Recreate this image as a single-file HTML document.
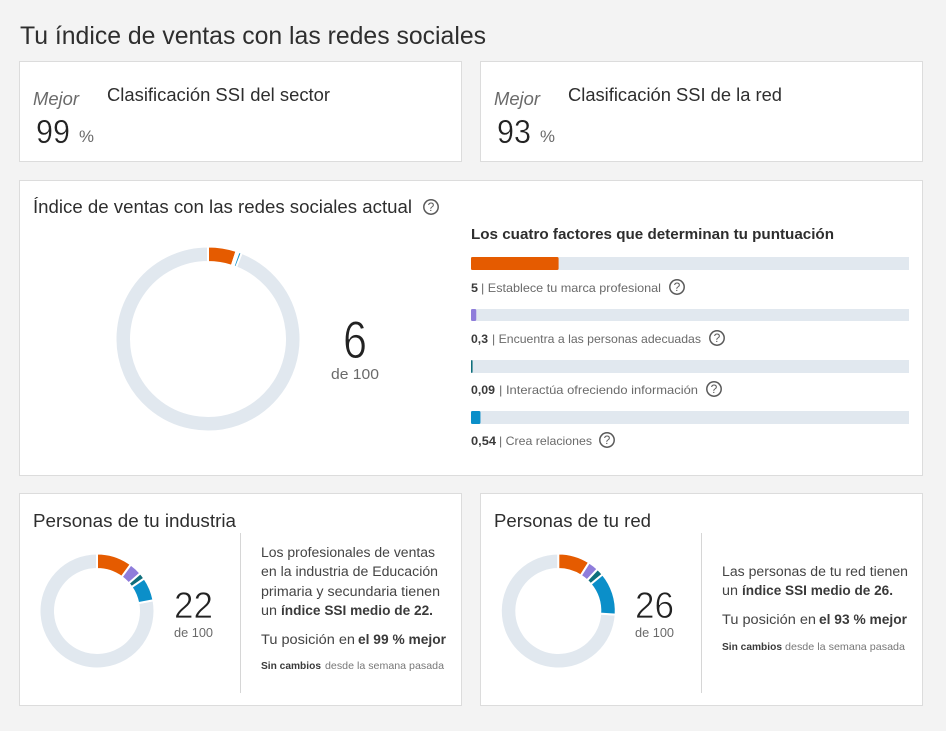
<!DOCTYPE html>
<html lang="es">
<head>
<meta charset="utf-8">
<title>Índice de ventas con las redes sociales</title>
<style>
html,body{margin:0;padding:0;background:#f3f3f3;}
svg{display:block;font-family:"Liberation Sans",sans-serif;}
.card{fill:#fff;stroke:#dcdcdc;stroke-width:1;}
.dark{fill:#2e2e2e;}
.mid{fill:#6a6a6a;}
.b{font-weight:bold;fill:#3a3a3a;}
.help circle{fill:none;stroke:#5a5a5a;stroke-width:1.5;}
.help text{fill:#5a5a5a;font-size:12px;text-anchor:middle;}
</style>
</head>
<body>
<svg id="page" xmlns="http://www.w3.org/2000/svg" width="946" height="731" viewBox="0 0 946 731">
<rect width="946" height="731" fill="#f3f3f3"/>
<text class="dark" x="20" y="44" font-size="25" textLength="466" lengthAdjust="spacingAndGlyphs">Tu índice de ventas con las redes sociales</text>

<rect class="card" x="19.5" y="61.5" width="442" height="100"/>
<text class="mid" font-style="italic" x="33" y="105" font-size="18" textLength="46" lengthAdjust="spacingAndGlyphs">Mejor</text>
<text class="dark" x="107" y="101" font-size="18" textLength="223" lengthAdjust="spacingAndGlyphs">Clasificación SSI del sector</text>
<text fill="#222" stroke="#fff" stroke-width="0.4" x="36" y="143" font-size="33" textLength="34" lengthAdjust="spacingAndGlyphs">99</text>
<text class="mid" x="79" y="142" font-size="17" textLength="15" lengthAdjust="spacingAndGlyphs">%</text>

<rect class="card" x="480.5" y="61.5" width="442" height="100"/>
<text class="mid" font-style="italic" x="494" y="105" font-size="18" textLength="46" lengthAdjust="spacingAndGlyphs">Mejor</text>
<text class="dark" x="568" y="101" font-size="18" textLength="214" lengthAdjust="spacingAndGlyphs">Clasificación SSI de la red</text>
<text fill="#222" stroke="#fff" stroke-width="0.4" x="497" y="143" font-size="33" textLength="34" lengthAdjust="spacingAndGlyphs">93</text>
<text class="mid" x="540" y="142" font-size="17" textLength="15" lengthAdjust="spacingAndGlyphs">%</text>

<rect class="card" x="19.5" y="180.5" width="903" height="295"/>
<text class="dark" x="33" y="213" font-size="18" textLength="379" lengthAdjust="spacingAndGlyphs">Índice de ventas con las redes sociales actual</text>
<g class="help"><circle cx="431" cy="207" r="7.2"/><text x="431" y="211">?</text></g>
<g id="main-donut"></g>
<text x="343" y="358" font-size="53" fill="#222" stroke="#fff" stroke-width="0.9" textLength="24" lengthAdjust="spacingAndGlyphs">6</text>
<text class="mid" x="331" y="379" font-size="15" textLength="48" lengthAdjust="spacingAndGlyphs">de 100</text>

<text font-weight="bold" fill="#2e2e2e" x="471" y="239" font-size="15" textLength="363" lengthAdjust="spacingAndGlyphs">Los cuatro factores que determinan tu puntuación</text>
<g id="factor-bars"></g>

<text class="b" x="471" y="292" font-size="12" textLength="7" lengthAdjust="spacingAndGlyphs">5</text>
<text class="mid" x="481" y="292" font-size="12" textLength="180" lengthAdjust="spacingAndGlyphs">| Establece tu marca profesional</text>
<g class="help"><circle cx="677" cy="287" r="7.2"/><text x="677" y="291">?</text></g>

<text class="b" x="471" y="343" font-size="12" textLength="17" lengthAdjust="spacingAndGlyphs">0,3</text>
<text class="mid" x="492" y="343" font-size="12" textLength="209" lengthAdjust="spacingAndGlyphs">| Encuentra a las personas adecuadas</text>
<g class="help"><circle cx="717" cy="338" r="7.2"/><text x="717" y="342">?</text></g>

<text class="b" x="471" y="394" font-size="12" textLength="24" lengthAdjust="spacingAndGlyphs">0,09</text>
<text class="mid" x="499" y="394" font-size="12" textLength="199" lengthAdjust="spacingAndGlyphs">| Interactúa ofreciendo información</text>
<g class="help"><circle cx="714" cy="389" r="7.2"/><text x="714" y="393">?</text></g>

<text class="b" x="471" y="445" font-size="12" textLength="25" lengthAdjust="spacingAndGlyphs">0,54</text>
<text class="mid" x="499" y="445" font-size="12" textLength="93" lengthAdjust="spacingAndGlyphs">| Crea relaciones</text>
<g class="help"><circle cx="607" cy="440" r="7.2"/><text x="607" y="444">?</text></g>

<rect class="card" x="19.5" y="493.5" width="442" height="212"/>
<text class="dark" x="33" y="527" font-size="18" textLength="203" lengthAdjust="spacingAndGlyphs">Personas de tu industria</text>
<g id="industry-donut"></g>
<text x="174" y="618" font-size="37" fill="#222" stroke="#fff" stroke-width="0.7" textLength="39" lengthAdjust="spacingAndGlyphs">22</text>
<text class="mid" x="174" y="637" font-size="12.5" textLength="39" lengthAdjust="spacingAndGlyphs">de 100</text>
<rect x="240" y="533" width="1" height="160" fill="#d6d6d6"/>
<text fill="#444" x="261" y="557" font-size="13.5" textLength="174" lengthAdjust="spacingAndGlyphs">Los profesionales de ventas</text>
<text fill="#444" x="261" y="576" font-size="13.5" textLength="177" lengthAdjust="spacingAndGlyphs">en la industria de Educación</text>
<text fill="#444" x="261" y="596" font-size="13.5" textLength="179" lengthAdjust="spacingAndGlyphs">primaria y secundaria tienen</text>
<text fill="#444" x="261" y="615" font-size="13.5" textLength="16" lengthAdjust="spacingAndGlyphs">un</text>
<text class="b" x="281" y="615" font-size="13.5" textLength="152" lengthAdjust="spacingAndGlyphs">índice SSI medio de 22.</text>
<text fill="#444" x="261" y="644" font-size="13.5" textLength="94" lengthAdjust="spacingAndGlyphs">Tu posición en</text>
<text class="b" x="358" y="644" font-size="13.5" textLength="88" lengthAdjust="spacingAndGlyphs">el 99 % mejor</text>
<text class="b" x="261" y="669" font-size="10.5" textLength="60" lengthAdjust="spacingAndGlyphs">Sin cambios</text>
<text fill="#777" x="325" y="669" font-size="10.5" textLength="119" lengthAdjust="spacingAndGlyphs">desde la semana pasada</text>

<rect class="card" x="480.5" y="493.5" width="442" height="212"/>
<text class="dark" x="494" y="527" font-size="18" textLength="157" lengthAdjust="spacingAndGlyphs">Personas de tu red</text>
<g id="network-donut"></g>
<text x="635" y="618" font-size="37" fill="#222" stroke="#fff" stroke-width="0.7" textLength="39" lengthAdjust="spacingAndGlyphs">26</text>
<text class="mid" x="635" y="637" font-size="12.5" textLength="39" lengthAdjust="spacingAndGlyphs">de 100</text>
<rect x="701" y="533" width="1" height="160" fill="#d6d6d6"/>
<text fill="#444" x="722" y="576" font-size="13.5" textLength="186" lengthAdjust="spacingAndGlyphs">Las personas de tu red tienen</text>
<text fill="#444" x="722" y="595" font-size="13.5" textLength="16" lengthAdjust="spacingAndGlyphs">un</text>
<text class="b" x="742" y="595" font-size="13.5" textLength="151" lengthAdjust="spacingAndGlyphs">índice SSI medio de 26.</text>
<text fill="#444" x="722" y="624" font-size="13.5" textLength="94" lengthAdjust="spacingAndGlyphs">Tu posición en</text>
<text class="b" x="819" y="624" font-size="13.5" textLength="88" lengthAdjust="spacingAndGlyphs">el 93 % mejor</text>
<text class="b" x="722" y="650" font-size="10.5" textLength="60" lengthAdjust="spacingAndGlyphs">Sin cambios</text>
<text fill="#777" x="785" y="650" font-size="10.5" textLength="120" lengthAdjust="spacingAndGlyphs">desde la semana pasada</text>
</svg>

<script>
const factorNames = ['brand', 'people', 'insights', 'relationships'];
const currentValues = [5, 0.3, 0.09, 0.54];
const industryValues = [10, 3.6, 1.8, 6.6];
const networkValues = [9, 3, 2, 12];
const donutMax = 100;
const factorMax = 25;

const factorColors = ['#e55b00', '#8f7ddb', '#0f6f7c', '#0b8fc9'];
const trackColor = '#e1e8ef';
const NS = 'http://www.w3.org/2000/svg';

function angleScale(value) {
  return value / donutMax * Math.PI * 2;
}

function sectorPath(cx, cy, outer, inner, start, end) {
  const large = end - start > Math.PI ? 1 : 0;
  const px = (r, a) => (cx + r * Math.sin(a)).toFixed(2);
  const py = (r, a) => (cy - r * Math.cos(a)).toFixed(2);
  return 'M' + px(outer, start) + ' ' + py(outer, start) +
    'A' + outer + ' ' + outer + ' 0 ' + large + ' 1 ' + px(outer, end) + ' ' + py(outer, end) +
    'L' + px(inner, end) + ' ' + py(inner, end) +
    'A' + inner + ' ' + inner + ' 0 ' + large + ' 0 ' + px(inner, start) + ' ' + py(inner, start) + 'Z';
}

function drawDonut(groupId, values, cx, cy, outer, inner, gap) {
  const group = document.getElementById(groupId);
  const total = values.reduce((a, b) => a + b, 0);
  const rOuter = outer + gap / 2;
  const rInner = inner - gap / 2;
  const track = document.createElementNS(NS, 'path');
  
  
  track.setAttribute('d', sectorPath(cx, cy, rOuter, rInner, angleScale(total), Math.PI * 2 - 0.0001));
  track.setAttribute('fill', trackColor);
  track.setAttribute('stroke', '#fff');
  track.setAttribute('stroke-width', gap);
  group.appendChild(track);
  let cumulative = 0;
  values.forEach((value, i) => {
    const slice = document.createElementNS(NS, 'path');
    
    
    slice.setAttribute('d', sectorPath(cx, cy, rOuter, rInner, angleScale(cumulative), angleScale(cumulative + value)));
    slice.setAttribute('fill', factorColors[i]);
    slice.setAttribute('stroke', '#fff');
    slice.setAttribute('stroke-width', gap);
    group.appendChild(slice);
    cumulative += value;
  });
}

function barScale(value) {
  return value / factorMax * 438;
}

function drawBars() {
  const group = document.getElementById('factor-bars');
  currentValues.forEach((value, i) => {
    const top = i === 0 ? 257 : 258 + 51 * i;
    const h = i === 1 ? 12 : 13;
    const track = document.createElementNS(NS, 'rect');
    
    
    track.setAttribute('x', 471);
    track.setAttribute('y', top);
    track.setAttribute('width', 438);
    track.setAttribute('height', h);
    track.setAttribute('fill', trackColor);
    group.appendChild(track);
    const bar = document.createElementNS(NS, 'rect');
    
    
    bar.setAttribute('x', 471);
    bar.setAttribute('y', top);
    bar.setAttribute('width', barScale(value));
    bar.setAttribute('height', h);
    bar.setAttribute('rx', 1.5);
    bar.setAttribute('fill', factorColors[i]);
    group.appendChild(bar);
  });
}

drawDonut('main-donut', currentValues, 208, 339, 91.5, 78, 2);
drawDonut('industry-donut', industryValues, 97, 611, 56.5, 43, 2);
drawDonut('network-donut', networkValues, 558.3, 611, 56.5, 43, 2);
drawBars();
</script>
</body>
</html>
